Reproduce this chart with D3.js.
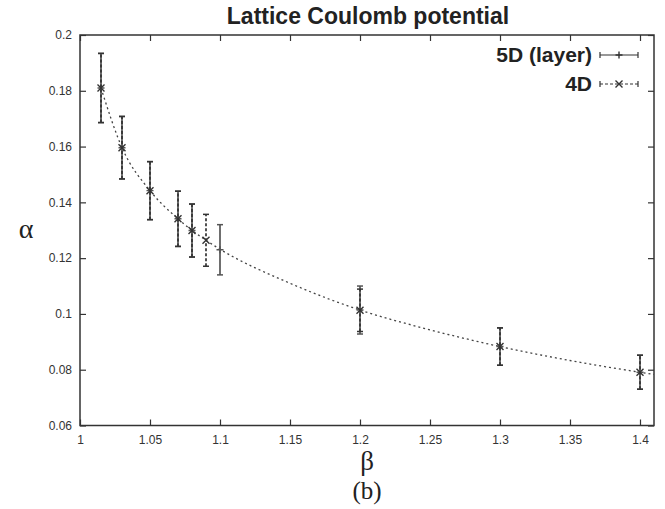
<!DOCTYPE html>
<html>
<head>
<meta charset="utf-8">
<script src="https://cdn.jsdelivr.net/npm/d3@7"></script>
<style>
  html, body { margin: 0; padding: 0; background: #fff; }
  svg { display: block; }
  .tick text { font-family: "Liberation Sans", Arial, Helvetica, sans-serif; font-size: 12px; fill: #333; }
</style>
</head>
<body>
<svg id="chart" width="665" height="509"></svg>
<script>
// Coupling alpha against beta, 5D layer model and 4D lattice
const beta5D  = [1.015, 1.03, 1.05, 1.07, 1.08, 1.10, 1.20, 1.30, 1.40];
const alpha5D = [0.1810, 0.1596, 0.1442, 0.1341, 0.1299, 0.1230, 0.1014, 0.0883, 0.0791];
const err5D   = [0.0124, 0.0112, 0.0104, 0.0099, 0.0095, 0.0090, 0.0086, 0.0067, 0.0061];

const beta4D  = [1.015, 1.03, 1.05, 1.07, 1.08, 1.09, 1.20, 1.30, 1.40];
const alpha4D = [0.1810, 0.1596, 0.1442, 0.1341, 0.1299, 0.1264, 0.1013, 0.0883, 0.0791];
const err4D   = [0.0124, 0.0112, 0.0104, 0.0099, 0.0095, 0.0093, 0.0076, 0.0067, 0.0061];

// Fitted curve through the data
const fitBeta  = [1.015, 1.03, 1.05, 1.07, 1.09, 1.10, 1.15, 1.20, 1.25, 1.30, 1.35, 1.41];
const fitAlpha = [0.1810, 0.1596, 0.1442, 0.1341, 0.1264, 0.1232, 0.1110, 0.1014, 0.0943, 0.0883, 0.0833, 0.0783];

const xTicks = [1, 1.05, 1.1, 1.15, 1.2, 1.25, 1.3, 1.35, 1.4];
const yTicks = [0.06, 0.08, 0.1, 0.12, 0.14, 0.16, 0.18, 0.2];

const svg = d3.select("#chart");
const m = { left: 80, right: 654, top: 35, bottom: 425.5 };

const x = d3.scaleLinear().domain([1, 1.41]).range([m.left, m.right]);
const y = d3.scaleLinear().domain([0.06, 0.2]).range([m.bottom, m.top]);

const frameColor = "#333";
const tickLen = 6;

// Axes with inward ticks on all four sides
const gx = svg.append("g").attr("transform", `translate(0,${m.bottom})`)
  .call(d3.axisBottom(x).tickValues(xTicks).tickSize(-tickLen).tickPadding(10).tickFormat(d3.format("")));
const gxTop = svg.append("g").attr("transform", `translate(0,${m.top})`)
  .call(d3.axisTop(x).tickValues(xTicks).tickSize(-tickLen).tickFormat(""));
const gy = svg.append("g").attr("transform", `translate(${m.left},0)`)
  .call(d3.axisLeft(y).tickValues(yTicks).tickSize(-tickLen).tickPadding(8).tickFormat(d3.format("")));
const gyR = svg.append("g").attr("transform", `translate(${m.right},0)`)
  .call(d3.axisRight(y).tickValues(yTicks).tickSize(-tickLen).tickFormat(""));

[gx, gxTop, gy, gyR].forEach(g => {
  g.select(".domain").remove();
  g.selectAll(".tick line").attr("stroke", frameColor).attr("stroke-width", 1.2);
});

svg.append("rect")
  .attr("x", m.left).attr("y", m.top)
  .attr("width", m.right - m.left).attr("height", m.bottom - m.top)
  .attr("fill", "none").attr("stroke", frameColor).attr("stroke-width", 1.5);

// Fit curve
svg.append("path")
  .datum(fitBeta.map((b, i) => [b, fitAlpha[i]]))
  .attr("fill", "none")
  .attr("stroke", "#444")
  .attr("stroke-width", 1.3)
  .attr("stroke-dasharray", "2,3")
  .attr("d", d3.line().x(d => x(d[0])).y(d => y(d[1])).curve(d3.curveMonotoneX));

const capW = 3;
const mark = 3.5;

function errorBars(betas, vals, errs, color, dash, marker) {
  const g = svg.append("g");
  betas.forEach((b, i) => {
    const cx = x(b);
    const y0 = y(vals[i] - errs[i]);
    const y1 = y(vals[i] + errs[i]);
    const cy = y(vals[i]);
    g.append("line").attr("x1", cx).attr("x2", cx).attr("y1", y0).attr("y2", y1)
      .attr("stroke", color).attr("stroke-width", 1.7).attr("stroke-dasharray", dash);
    [y0, y1].forEach(yy => g.append("line")
      .attr("x1", cx - capW).attr("x2", cx + capW).attr("y1", yy).attr("y2", yy)
      .attr("stroke", color).attr("stroke-width", 1.5));
    marker(g, cx, cy, color);
  });
}

function plus(g, cx, cy, color) {
  g.append("path").attr("d", `M${cx - mark},${cy}H${cx + mark}M${cx},${cy - mark}V${cy + mark}`)
    .attr("stroke", color).attr("stroke-width", 1.4).attr("fill", "none");
}
function cross(g, cx, cy, color) {
  g.append("path").attr("d", `M${cx - mark},${cy - mark}L${cx + mark},${cy + mark}M${cx - mark},${cy + mark}L${cx + mark},${cy - mark}`)
    .attr("stroke", color).attr("stroke-width", 1.4).attr("fill", "none");
}

errorBars(beta5D, alpha5D, err5D, "#555", null, plus);
errorBars(beta4D, alpha4D, err4D, "#333", "3,2", cross);

// Title
svg.append("text")
  .attr("x", 368).attr("y", 24)
  .attr("text-anchor", "middle")
  .attr("font-family", "'Liberation Sans', Arial, Helvetica, sans-serif")
  .attr("font-weight", "bold").attr("font-size", 23).attr("fill", "#222")
  .text("Lattice Coulomb potential");

// Legend
const legend = [
  { label: "5D (layer)", y: 55, color: "#333", dash: null, marker: plus },
  { label: "4D", y: 84, color: "#333", dash: "3,2", marker: cross }
];
legend.forEach(d => {
  svg.append("text")
    .attr("x", 592).attr("y", d.y + 7)
    .attr("text-anchor", "end")
    .attr("font-family", "'Liberation Sans', Arial, Helvetica, sans-serif")
    .attr("font-weight", "bold").attr("font-size", 21).attr("fill", "#222")
    .text(d.label);
  const x0 = 600, x1 = 638;
  svg.append("line").attr("x1", x0).attr("x2", x1).attr("y1", d.y).attr("y2", d.y)
    .attr("stroke", d.color).attr("stroke-width", 1.2).attr("stroke-dasharray", d.dash);
  [x0, x1].forEach(xx => svg.append("line")
    .attr("x1", xx).attr("x2", xx).attr("y1", d.y - 3).attr("y2", d.y + 3)
    .attr("stroke", d.color).attr("stroke-width", 1.2));
  d.marker(svg, (x0 + x1) / 2, d.y, d.color);
});

// Axis labels
svg.append("text")
  .attr("x", 26).attr("y", (m.top + m.bottom) / 2 + 8)
  .attr("text-anchor", "middle")
  .attr("font-family", "'Liberation Serif', 'Times New Roman', serif")
  .attr("font-size", 28).attr("fill", "#222")
  .text("α");
svg.append("text")
  .attr("x", (m.left + m.right) / 2).attr("y", 470)
  .attr("text-anchor", "middle")
  .attr("font-family", "'Liberation Serif', 'Times New Roman', serif")
  .attr("font-size", 27).attr("fill", "#222")
  .text("β");
svg.append("text")
  .attr("x", (m.left + m.right) / 2).attr("y", 499)
  .attr("text-anchor", "middle")
  .attr("font-family", "'Liberation Serif', 'Times New Roman', serif")
  .attr("font-size", 25).attr("fill", "#222")
  .text("(b)");
</script>
</body>
</html>
